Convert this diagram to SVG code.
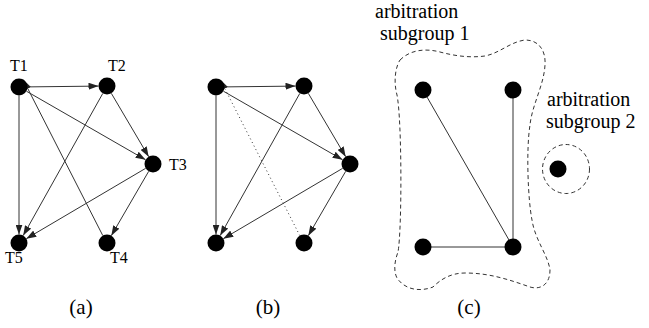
<svg xmlns="http://www.w3.org/2000/svg" width="649" height="328" viewBox="0 0 649 328">
<style>
.n{fill:#000}
.e{stroke:#333;stroke-width:1;fill:none}
.a{marker-end:url(#ah)}
.dot{stroke-dasharray:1 3}
.blob{fill:none;stroke:#333;stroke-width:1;stroke-dasharray:4 3}
text{font-family:"Liberation Serif","Times New Roman",serif;fill:#000}
.t{font-size:16px}
.cap{font-size:21px;text-anchor:middle}
.lab{font-size:20px}
</style>
<defs>
<marker id="ah" markerUnits="userSpaceOnUse" markerWidth="10" markerHeight="7" refX="10" refY="3.5" orient="auto">
<path d="M0,0 L10,3.5 L0,7 z" fill="#222"/>
</marker>
</defs>
<g id="connectors">
<line class="e a" x1="27.5" y1="86.9" x2="98.5" y2="86.1"/>
<line class="e a" x1="26.4" y1="91.2" x2="145.6" y2="159.8"/>
<line class="e a" x1="19" y1="95.5" x2="19" y2="234.5"/>
<line class="e a" x1="111.3" y1="93.3" x2="148.7" y2="156.7"/>
<line class="e a" x1="102.8" y1="93.4" x2="23.2" y2="235.6"/>
<line class="e a" x1="145.7" y1="168.3" x2="26.3" y2="238.7"/>
<line class="e a" x1="148.7" y1="171.3" x2="111.3" y2="235.7"/>
<line class="e a" x1="102.8" y1="235.6" x2="23.2" y2="79.6"/>
<line class="e a" x1="224.5" y1="86.9" x2="295.5" y2="86.1"/>
<line class="e a" x1="223.4" y1="91.2" x2="342.6" y2="159.8"/>
<line class="e a" x1="216" y1="95.5" x2="216" y2="234.5"/>
<line class="e a" x1="308.3" y1="93.3" x2="345.7" y2="156.7"/>
<line class="e a" x1="299.8" y1="93.4" x2="220.2" y2="235.6"/>
<line class="e a" x1="342.7" y1="168.3" x2="223.3" y2="238.7"/>
<line class="e a" x1="345.7" y1="171.3" x2="308.3" y2="235.7"/>
<line class="e a dot" x1="299.8" y1="235.6" x2="220.2" y2="79.6"/>
<line class="e" x1="423" y1="90" x2="513" y2="247"/>
<line class="e" x1="513" y1="90" x2="513" y2="247"/>
<line class="e" x1="423" y1="247" x2="513" y2="247"/>
</g>
<g id="graph-a">
<g id="a-T1"><circle class="n" cx="19" cy="87" r="8.5"/><text class="t" x="10" y="71">T1</text></g>
<g id="a-T2"><circle class="n" cx="107" cy="86" r="8.5"/><text class="t" x="108" y="71">T2</text></g>
<g id="a-T3"><circle class="n" cx="153" cy="164" r="8.5"/><text class="t" x="169" y="170">T3</text></g>
<g id="a-T4"><circle class="n" cx="107" cy="243" r="8.5"/><text class="t" x="110" y="263">T4</text></g>
<g id="a-T5"><circle class="n" cx="19" cy="243" r="8.5"/><text class="t" x="5" y="263">T5</text></g>
<text class="cap" x="81" y="314">(a)</text>
</g>
<g id="graph-b">
<g id="b-1"><circle class="n" cx="216" cy="87" r="8.5"/></g>
<g id="b-2"><circle class="n" cx="304" cy="86" r="8.5"/></g>
<g id="b-3"><circle class="n" cx="350" cy="164" r="8.5"/></g>
<g id="b-4"><circle class="n" cx="304" cy="243" r="8.5"/></g>
<g id="b-5"><circle class="n" cx="216" cy="243" r="8.5"/></g>
<text class="cap" x="268" y="314">(b)</text>
</g>
<g id="graph-c">
<g id="subgroup1">
<path class="blob" d="M400 60 C410 50,425 48,440 52 C455 56,470 58,485 56 C500 53,510 42,525 40 C540 40,546 52,545 65 C544 85,532 105,530 125 C526 150,528 200,532 220 C535 240,548 255,550 270 C550 285,540 290,530 287 C510 280,490 273,465 273 C450 273,440 280,433 287 C420 292,405 290,397 278 C393 270,395 260,398 252 C402 230,402 120,397 95 C393 80,396 66,400 60 Z"/>
<text class="lab" x="375" y="18">arbitration</text>
<text class="lab" x="380" y="40">subgroup 1</text>
</g>
<g id="c-1"><circle class="n" cx="423" cy="90" r="8.5"/></g>
<g id="c-2"><circle class="n" cx="513" cy="90" r="8.5"/></g>
<g id="c-3"><circle class="n" cx="423" cy="247" r="8.5"/></g>
<g id="c-4"><circle class="n" cx="513" cy="247" r="8.5"/></g>
<g id="subgroup2">
<ellipse class="blob" cx="566" cy="169" rx="23.5" ry="24.5"/>
<g id="c-5"><circle class="n" cx="558" cy="169" r="8.5"/></g>
<text class="lab" x="547" y="106">arbitration</text>
<text class="lab" x="546" y="128">subgroup 2</text>
</g>
<text class="cap" x="469" y="314">(c)</text>
</g>
</svg>
